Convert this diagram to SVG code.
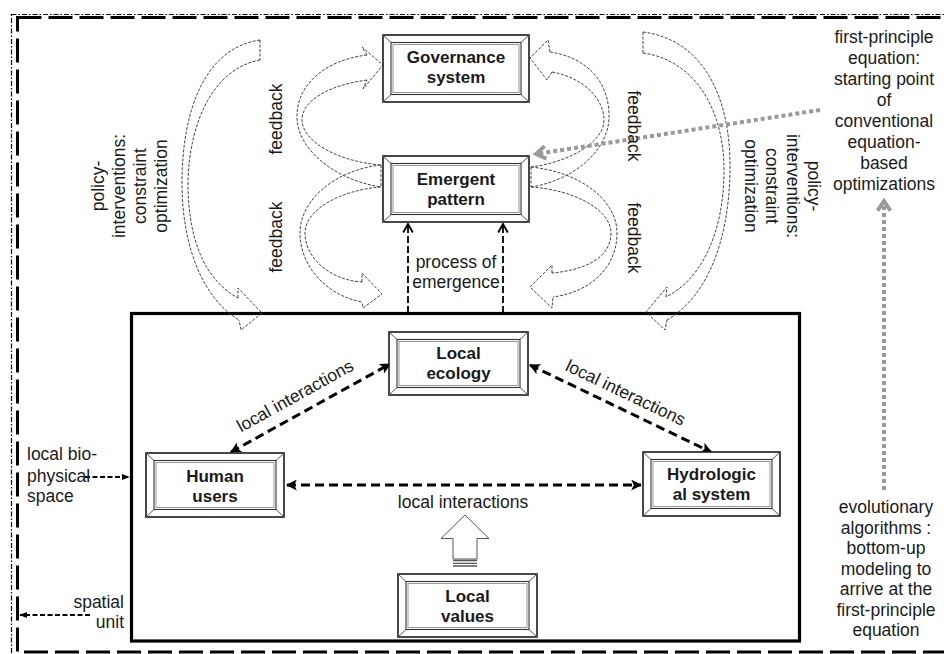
<svg xmlns="http://www.w3.org/2000/svg" width="944" height="654" viewBox="0 0 944 654">
<style>
text{font-family:"Liberation Sans",Arial,sans-serif;fill:#1a1a1a}
.t{font-size:17.5px}
.b{font-size:17px;font-weight:bold;text-anchor:middle}
.m{text-anchor:middle}
.bo{fill:#fff;stroke:#1a1a1a;stroke-width:1.6}
.bi{fill:none;stroke:#333;stroke-width:1.1}
.bi2{fill:#fff;stroke:#999;stroke-width:1}
.bd{fill:none;stroke:#555;stroke-width:1}
.fb{fill:none;stroke:#444;stroke-width:1;stroke-dasharray:3 1.5}
.li{fill:none;stroke:#000;stroke-width:3;stroke-dasharray:9 5}
.pe{fill:none;stroke:#000;stroke-width:1.8;stroke-dasharray:7 3}
.sm{fill:none;stroke:#000;stroke-width:1.8;stroke-dasharray:5 2.5}
.gd{fill:none;stroke:#999;stroke-width:4;stroke-dasharray:4 3}
</style>
<defs>
<marker id="ah" viewBox="0 0 10 10" refX="9" refY="5" markerUnits="userSpaceOnUse" markerWidth="11" markerHeight="11" orient="auto-start-reverse">
<path d="M0,0 L10,5 L0,10 L2.5,5 z" fill="#000"/>
</marker>
<marker id="ao" viewBox="0 0 10 10" refX="9" refY="5" markerUnits="userSpaceOnUse" markerWidth="12" markerHeight="12" orient="auto">
<path d="M2,1 L9,5 L2,9" fill="none" stroke="#000" stroke-width="1.6"/>
</marker>
<marker id="as" viewBox="0 0 10 10" refX="9" refY="5" markerUnits="userSpaceOnUse" markerWidth="8" markerHeight="8" orient="auto">
<path d="M0,1 L10,5 L0,9 z" fill="#000"/>
</marker>
<marker id="ag" viewBox="0 0 10 10" refX="8" refY="5" markerUnits="userSpaceOnUse" markerWidth="16" markerHeight="16" orient="auto">
<path d="M2,1 L8,5 L2,9" fill="none" stroke="#999" stroke-width="2.4"/>
</marker>
</defs>

<!-- frames -->
<g id="frames">
<rect x="11.5" y="14.5" width="1000" height="700" fill="none" stroke="#000" stroke-width="1.2" stroke-dasharray="5 2 1.5 2"/>
<rect x="17.5" y="17.5" width="1000" height="634.5" fill="none" stroke="#000" stroke-width="3" stroke-dasharray="24 7"/>
<rect x="131.5" y="313.5" width="668" height="327.5" fill="none" stroke="#000" stroke-width="3.2"/>
</g>

<!-- connectors -->
<g id="connectors">
<!-- big policy arcs -->
<path class="fb" d="M260,40 L260,60"/>
<path class="fb" d="M260,40 C205,48 182,110 182,183 C182,250 205,300 239,320"/>
<path class="fb" d="M260,60 C215,68 189,120 188,183 C188,240 205,280 238,298"/>
<path class="fb" d="M238,298 L238,288 L262,313 L241,330 L239,320"/>
<path class="fb" d="M643,32 L643,53"/>
<path class="fb" d="M643,32 C705,40 731,100 730,170 C729,245 705,298 667,320"/>
<path class="fb" d="M643,53 C695,60 724,110 724,170 C724,235 700,280 666,297"/>
<path class="fb" d="M666,297 L667,287 L646,312 L665,330 L667,320"/>
<!-- left feedback bands -->
<path class="fb" d="M381,165 L381,187"/>
<path class="fb" d="M367,55 C325,60 296,85 297,118 C298,150 335,180 381,187"/>
<path class="fb" d="M367,80 C330,85 302,100 302,120 C302,142 340,162 381,165"/>
<path class="fb" d="M367,55 L362,47 L383,65 L363,89 L367,80"/>
<path class="fb" d="M381,165 C335,170 300,200 300,233 C300,265 325,295 362,302"/>
<path class="fb" d="M381,187 C340,190 305,210 305,233 C305,258 330,280 362,282"/>
<path class="fb" d="M362,282 L362,273 L382,294 L363,308 L362,302"/>
<!-- right feedback bands -->
<path class="fb" d="M531,167 L531,187"/>
<path class="fb" d="M550,52 C590,58 610,85 609,118 C608,150 575,180 531,187"/>
<path class="fb" d="M552,72 C585,78 604,100 604,120 C604,142 570,162 531,167"/>
<path class="fb" d="M550,52 L548,40 L530,58 L547,80 L552,72"/>
<path class="fb" d="M531,167 C580,172 617,200 617,233 C617,268 590,292 553,297"/>
<path class="fb" d="M531,187 C575,190 611,210 611,233 C611,258 585,270 552,273"/>
<path class="fb" d="M552,273 L552,265 L530,287 L552,308 L553,297"/>
<!-- process of emergence -->
<path class="pe" d="M408,313 L408,224" marker-end="url(#ao)"/>
<path class="pe" d="M503,313 L503,224" marker-end="url(#ao)"/>
<!-- local interactions -->
<path class="li" d="M231,452 L390,364" marker-start="url(#ah)" marker-end="url(#ah)"/>
<path class="li" d="M530,365 L711,452" marker-start="url(#ah)" marker-end="url(#ah)"/>
<path class="li" d="M287,485 L641,485" marker-start="url(#ah)" marker-end="url(#ah)"/>
<!-- local values block arrow -->
<path d="M465,515 L489,538.5 L477,538.5 L477,559 L453,559 L453,538.5 L441,538.5 z" fill="#fff" stroke="#555" stroke-width="1"/>
<path d="M453,560.5 L477,560.5 M453,563.3 L477,563.3 M453,566 L477,566" stroke="#555" stroke-width="1.3"/>
<!-- small dashed arrows -->
<path class="sm" d="M85,477 L129,477" marker-end="url(#as)"/>
<path class="sm" d="M90,615 L20,615" marker-end="url(#as)"/>
<!-- grey dotted -->
<path class="gd" d="M820,110 L536,154" marker-end="url(#ag)"/>
<path class="gd" d="M884,490 L884,201" marker-end="url(#ag)"/>
</g>

<!-- nodes -->
<g id="governance">
<rect class="bo" x="383" y="35" width="146" height="67"/>
<rect class="bi" x="391" y="42.5" width="130" height="52"/>
<rect class="bi2" x="393" y="44.5" width="126" height="48"/>
<path class="bd" d="M383,35 L391,42.5 M529,35 L521,42.5 M383,102 L391,94.5 M529,102 L521,94.5"/>
<text class="b" x="456" y="63">Governance</text>
<text class="b" x="456" y="83">system</text>
</g>
<g id="emergent">
<rect class="bo" x="383" y="156" width="146" height="66"/>
<rect class="bi" x="391" y="163.5" width="130" height="51"/>
<rect class="bi2" x="393" y="165.5" width="126" height="47"/>
<path class="bd" d="M383,156 L391,163.5 M529,156 L521,163.5 M383,222 L391,214.5 M529,222 L521,214.5"/>
<text class="b" x="456" y="185">Emergent</text>
<text class="b" x="456" y="205">pattern</text>
</g>
<g id="ecology">
<rect class="bo" x="389" y="332" width="139" height="63"/>
<rect class="bi" x="397" y="339.5" width="123" height="48"/>
<rect class="bi2" x="399" y="341.5" width="119" height="44"/>
<path class="bd" d="M389,332 L397,339.5 M528,332 L520,339.5 M389,395 L397,387.5 M528,395 L520,387.5"/>
<text class="b" x="458.5" y="359">Local</text>
<text class="b" x="458.5" y="379">ecology</text>
</g>
<g id="human">
<rect class="bo" x="146" y="453" width="138" height="64"/>
<rect class="bi" x="154" y="460.5" width="122" height="49"/>
<rect class="bi2" x="156" y="462.5" width="118" height="45"/>
<path class="bd" d="M146,453 L154,460.5 M284,453 L276,460.5 M146,517 L154,509.5 M284,517 L276,509.5"/>
<text class="b" x="215" y="482">Human</text>
<text class="b" x="215" y="502">users</text>
</g>
<g id="hydro">
<rect class="bo" x="643" y="452" width="137" height="64"/>
<rect class="bi" x="651" y="459.5" width="121" height="49"/>
<rect class="bi2" x="653" y="461.5" width="117" height="45"/>
<path class="bd" d="M643,452 L651,459.5 M780,452 L772,459.5 M643,516 L651,508.5 M780,516 L772,508.5"/>
<text class="b" x="711.5" y="480">Hydrologic</text>
<text class="b" x="711.5" y="500">al system</text>
</g>
<g id="values">
<rect class="bo" x="398" y="574" width="139" height="63"/>
<rect class="bi" x="406" y="581.5" width="123" height="48"/>
<rect class="bi2" x="408" y="583.5" width="119" height="44"/>
<path class="bd" d="M398,574 L406,581.5 M537,574 L529,581.5 M398,637 L406,629.5 M537,637 L529,629.5"/>
<text class="b" x="467.5" y="602">Local</text>
<text class="b" x="467.5" y="622">values</text>
</g>

<!-- labels -->
<g id="labels" class="t">
<text class="m" transform="translate(104,186) rotate(-90)"><tspan x="0" y="0">policy-</tspan><tspan x="0" y="21">interventions:</tspan><tspan x="0" y="42">constraint</tspan><tspan x="0" y="63">optimization</tspan></text>
<text class="m" transform="translate(808,186) rotate(90)"><tspan x="0" y="0">policy-</tspan><tspan x="0" y="21">interventions:</tspan><tspan x="0" y="42">constraint</tspan><tspan x="0" y="63">optimization</tspan></text>
<text class="m" transform="translate(282,119) rotate(-90)">feedback</text>
<text class="m" transform="translate(282,237) rotate(-90)">feedback</text>
<text class="m" transform="translate(628,126) rotate(90)">feedback</text>
<text class="m" transform="translate(628,238) rotate(90)">feedback</text>
<text class="m" x="456" y="268">process of</text>
<text class="m" x="456" y="288">emergence</text>
<text class="m" transform="translate(298,401) rotate(-29)">local interactions</text>
<text class="m" transform="translate(623,398) rotate(25.5)">local interactions</text>
<text class="m" x="463" y="508">local interactions</text>
<text x="27" y="460">local bio-</text>
<text x="27" y="481.5">physical</text>
<text x="27" y="502">space</text>
<text x="124" y="608" text-anchor="end">spatial</text>
<text x="124" y="628" text-anchor="end">unit</text>
<text class="m" x="884" y="43">first-principle</text>
<text class="m" x="884" y="64">equation:</text>
<text class="m" x="884" y="85">starting point</text>
<text class="m" x="884" y="106">of</text>
<text class="m" x="884" y="127">conventional</text>
<text class="m" x="884" y="148">equation-</text>
<text class="m" x="884" y="169">based</text>
<text class="m" x="884" y="190">optimizations</text>
<text class="m" x="886" y="513">evolutionary</text>
<text class="m" x="886" y="533.5">algorithms :</text>
<text class="m" x="886" y="554">bottom-up</text>
<text class="m" x="886" y="574.5">modeling to</text>
<text class="m" x="886" y="595">arrive at the</text>
<text class="m" x="886" y="615.5">first-principle</text>
<text class="m" x="886" y="636">equation</text>
</g>
</svg>
